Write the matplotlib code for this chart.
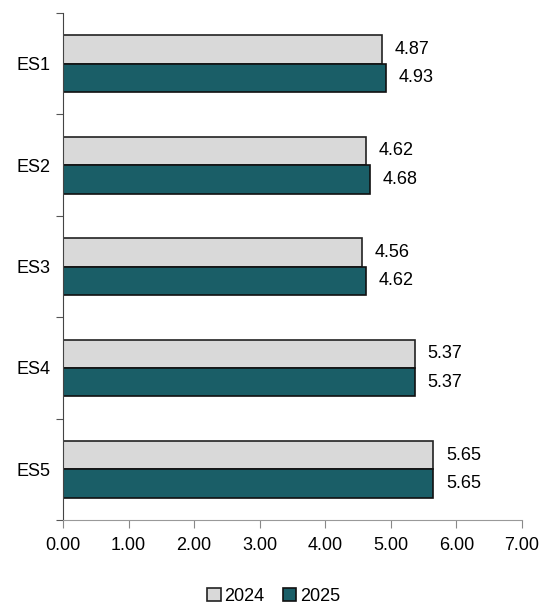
import numpy as np
import matplotlib.pyplot as plt
from matplotlib.ticker import FixedLocator, FormatStrFormatter

categories = ['ES1', 'ES2', 'ES3', 'ES4', 'ES5']
vals_2024 = [4.87, 4.62, 4.56, 5.37, 5.65]
vals_2025 = [4.93, 4.68, 4.62, 5.37, 5.65]

plt.rcParams['font.family'] = ['Liberation Sans', 'DejaVu Sans']
plt.rcParams['font.size'] = 13

fig = plt.figure(figsize=(5.47, 6.08), dpi=100)
ax = fig.add_axes([0.1152, 0.1447, 0.8391, 0.8339])

y = np.arange(len(categories))
h = 0.28
gray = '#d9d9d9'
teal = '#1a5e67'

b1 = ax.barh(y - h / 2, vals_2024, height=h, color=gray, edgecolor='#222222', linewidth=1.2, label='2024')
b2 = ax.barh(y + h / 2, vals_2025, height=h, color=teal, edgecolor='#111111', linewidth=1.2, label='2025')

for yy, v in zip(y, vals_2024):
    ax.text(v + 0.19, yy - h / 2, f'{v:.2f}', va='center', ha='left')
for yy, v in zip(y, vals_2025):
    ax.text(v + 0.19, yy + h / 2, f'{v:.2f}', va='center', ha='left')

ax.set_xlim(0, 7)
ax.set_ylim(len(categories) - 0.5, -0.5)
ax.set_xticks(np.arange(0, 8, 1))
ax.xaxis.set_major_formatter(FormatStrFormatter('%.2f'))

# category boundaries get the tick marks, centres get the labels
ax.yaxis.set_major_locator(FixedLocator(np.arange(-0.5, len(categories), 1)))
ax.yaxis.set_major_formatter(plt.NullFormatter())
ax.yaxis.set_minor_locator(FixedLocator(y))
ax.set_yticklabels(categories, minor=True)
ax.tick_params(axis='y', which='minor', length=0, pad=9)
ax.tick_params(axis='y', which='major', length=5, color='#555555')
ax.tick_params(axis='x', length=6, color='#888888', pad=6)

for s in ['top', 'right']:
    ax.spines[s].set_visible(False)
ax.spines['left'].set_color('#444444')
ax.spines['bottom'].set_color('#999999')

fig.legend(handles=[b1, b2], loc='lower center', bbox_to_anchor=(0.5, -0.022), ncol=2,
           frameon=False, handlelength=0.75, handleheight=0.75, handletextpad=0.2,
           columnspacing=1.0)

fig.savefig('out.png', dpi=100)
